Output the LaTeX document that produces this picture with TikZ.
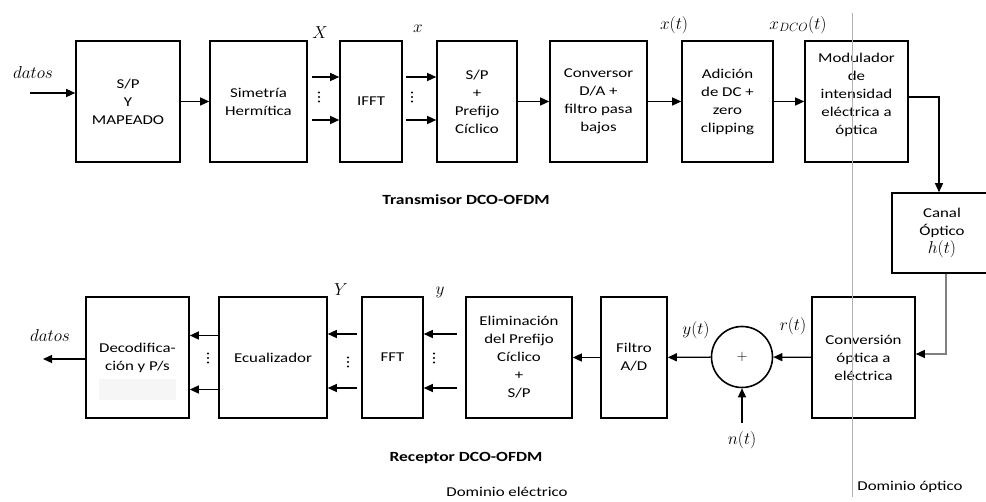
\documentclass[tikz,border=0pt]{standalone}
\usepackage{fontspec}
\newfontfamily\calfont[FakeStretch=1.25]{Carlito}
\usetikzlibrary{arrows.meta}

\begin{document}
\begin{tikzpicture}[x=1pt,y=-1pt,
  font=\calfont\fontsize{13.5}{18}\selectfont,
  blk/.style={draw,line width=1.6pt,minimum height=121pt,align=center,inner sep=2pt},
  lbl/.style={font=\fontsize{17}{18}\selectfont,inner sep=0pt},
  ttl/.style={font=\calfont\bfseries\fontsize{14}{16}\selectfont},
  arr/.style={->,line width=1.3pt},
  >={Triangle[length=9pt,width=8pt]}]
\useasboundingbox (0,0) rectangle (986,502);
% transmisor
\node[blk,minimum width=104pt] (spy) at (128,101.5) {S/P\\Y\\MAPEADO};
\node[blk,minimum width=97pt] (sim) at (258.5,101.5) {Simetría\\Hermítica};
\node[blk,minimum width=62pt] (ifft) at (371,101.5) {IFFT};
\node[blk,minimum width=80pt] (spp) at (477,101.5) {S/P\\+\\Prefijo\\Cíclico};
\node[blk,minimum width=97pt] (conv) at (598.5,101.5) {Conversor\\D/A +\\filtro pasa\\bajos};
\node[blk,minimum width=91pt] (adc) at (727.5,101.5) {Adición\\de DC +\\zero\\clipping};
\node[blk,minimum width=103pt,text depth=15pt] (mod) at (856.5,101.5) {Modulador\\de\\intensidad\\eléctrica a\\óptica};
\node[blk,minimum width=100pt,minimum height=80pt] (canal) at (942,233) {Canal\\Óptico\\{\fontsize{17}{18}\selectfont$h(t)$}};
% receptor
\node[blk,minimum width=103pt] (dec) at (137.5,357.5) {Decodifica-\\ción y P/s};
\fill[gray!7] (99,379) rectangle (176,400);
\node[blk,minimum width=108pt] (ecu) at (273,357.5) {Ecualizador};
\node[blk,minimum width=61pt] (fft) at (392.5,357.5) {FFT};
\node[blk,minimum width=106pt] (elim) at (519,357.5) {Eliminación\\del Prefijo\\Cíclico\\+\\S/P};
\node[blk,minimum width=66pt] (fil) at (634,357.5) {Filtro\\A/D};
\node[draw,circle,line width=1.6pt,minimum size=61pt,inner sep=0pt] (sum) at (742,357) {$+$};
\node[blk,minimum width=103pt] (cnv) at (863.5,357.5) {Conversión\\óptica a\\eléctrica};
% etiquetas
\node[lbl] (din) at (33,73) {$datos$};
\node[lbl] (dout) at (50,336) {$datos$};
\node[lbl] (lX) at (320,33) {$X$};
\node[lbl] (lx) at (418,29) {$x$};
\node[lbl] (lxt) at (674,25) {$x(t)$};
\node[lbl] (lxd) at (798,25) {$x_{DCO}(t)$};
\node[lbl] (lY) at (341,290) {$Y$};
\node[lbl] (ly) at (440,292) {$y$};
\node[lbl] (lyt) at (696,330) {$y(t)$};
\node[lbl] (lrt) at (793,326) {$r(t)$};
\node[lbl] (lnt) at (742,440) {$n(t)$};
\node[ttl] (ttx) at (466,200) {Transmisor DCO-OFDM};
\node[ttl] (trx) at (466,458) {Receptor DCO-OFDM};
\node (del) at (507,492) {Dominio eléctrico};
\node (dop) at (910,487) {Dominio óptico};
\coordinate (in) at (30,93);
\coordinate (out) at (43,359);
% puntos
\foreach \px/\py in {319/97,412/97,434/358,348/362,208/358}
  \foreach \k in {-4.5,0,4.5}
    \fill (\px,\py+\k) circle (1.1pt);
% flechas
\draw[arr] (in) -- (in -| spy.west);
\draw[arr] (spy) -- (sim);
\foreach \dy in {24.5,-18.5} {
  \draw[arr] ([xshift=4pt,yshift=\dy pt]sim.east) -- ([yshift=\dy pt]ifft.west);
  \draw[arr] ([xshift=3pt,yshift=\dy pt]ifft.east) -- ([yshift=\dy pt]spp.west);
}
\draw[arr] (spp) -- (conv);
\draw[arr] (conv) -- (adc);
\draw[arr] (adc) -- (mod);
\draw[arr] ([yshift=4.5pt]mod.east) -| ([xshift=-3pt]canal.north);
\draw[line width=1.3pt,gray,-{Triangle[length=9pt,width=8pt,color=black]}] ([xshift=4pt]canal.south) |- ([yshift=3.5pt]cnv.east);
\draw[arr] (cnv) -- (sum);
\draw[arr] (sum) -- (fil);
\draw[arr] (fil) -- (elim);
\draw[arr] ([yshift=8pt]lnt.north) -- (sum.south);
\foreach \dy in {23.5,-30.5} {
  \draw[arr] ([xshift=-8pt,yshift=\dy pt]elim.west) -- ([yshift=\dy pt]fft.east);
  \draw[arr] ([xshift=-4pt,yshift=\dy pt]fft.west) -- ([yshift=\dy pt]ecu.east);
  \draw[arr] ([yshift=\dy pt-1.5pt]ecu.west) -- ([yshift=\dy pt-1.5pt]dec.east);
}
\draw[arr] (dec.west |- out) -- (out);
\draw[gray!60,line width=0.9pt] (852,13) -- (852,497);
\end{tikzpicture}
\end{document}
